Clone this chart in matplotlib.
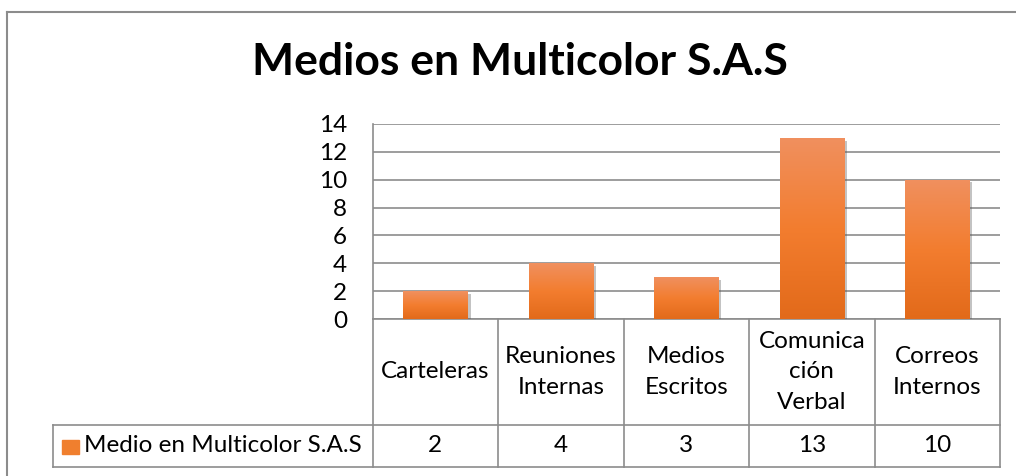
import matplotlib
matplotlib.use("Agg")
import matplotlib.pyplot as plt
import numpy as np
from matplotlib.colors import LinearSegmentedColormap
import matplotlib.patheffects as pe

plt.rcParams['font.family'] = ['Lato', 'DejaVu Sans']

title = "Medios en Multicolor S.A.S"
categories = ["Carteleras", "Reuniones\nInternas", "Medios\nEscritos", "Comunica\nción\nVerbal", "Correos\nInternos"]
values = [2, 4, 3, 13, 10]
series_name = "Medio en Multicolor S.A.S"
yticks = [0, 2, 4, 6, 8, 10, 12, 14]

W, H = 1016, 476
FS = 17.5
fig = plt.figure(figsize=(W / 100, H / 100), dpi=100)

# outer chart frame
frame_col = "#8c8c8c"
fig.add_artist(plt.Line2D([7 / W, 7 / W], [0, 1 - 12 / H], color=frame_col, lw=1.5))
fig.add_artist(plt.Line2D([7 / W, 1], [1 - 12 / H, 1 - 12 / H], color=frame_col, lw=1.5))

# plot area
left, right, top, bottom = 372.7, 1000, 124, 319
ax = fig.add_axes([left / W, 1 - bottom / H, (right - left) / W, (bottom - top) / H])
for s in ax.spines.values():
    s.set_visible(False)
ax.spines['left'].set_visible(True)
ax.spines['left'].set_color(frame_col)
ax.spines['left'].set_linewidth(1.2)
ax.set_yticks(yticks)
ax.set_yticklabels([str(t) for t in yticks], fontsize=FS)
ax.tick_params(axis='y', length=0, pad=18.5)
ax.tick_params(axis='x', length=0, labelbottom=False)
ax.yaxis.grid(True, color=frame_col, lw=1.2)
ax.set_axisbelow(True)

x = np.arange(len(values))
bw = 0.515
bars = ax.bar(x, values, width=bw, color="#F07F2E", zorder=2,
              path_effects=[pe.SimplePatchShadow(offset=(2, -2), alpha=0.35, shadow_rgbFace="#555555"), pe.Normal()])

cmap = LinearSegmentedColormap.from_list("og", ["#E26A1A", "#F37D2F", "#F0905F"])
grad = np.linspace(0, 1, 256).reshape(-1, 1)
for b in bars:
    x0, y0 = b.get_x(), b.get_y()
    im = ax.imshow(grad, cmap=cmap, origin="lower", aspect="auto",
                   extent=(x0, x0 + b.get_width(), y0, y0 + b.get_height()), zorder=3)
    im.set_clip_path(b)
ax.set_xlim(-0.5, len(values) - 0.5)
ax.set_ylim(0, 14)

# data table below
tr = ax.get_xaxis_transform()
ph = bottom - top
y_cat = -(425 - bottom) / ph
y_val = -(466.5 - bottom) / ph
x_leg = -0.5 - (left - 53) / ((right - left) / len(values))
lc = dict(color=frame_col, lw=1.2, transform=tr, clip_on=False, zorder=1)
ax.plot([-0.5, len(values) - 0.5], [0, 0], **lc)
ax.plot([x_leg, len(values) - 0.5], [y_cat, y_cat], **lc)
ax.plot([x_leg, len(values) - 0.5], [y_val, y_val], **lc)
ax.plot([x_leg, x_leg], [y_cat, y_val], **lc)
ax.plot([-0.5, -0.5], [0, y_val], **lc)
for i in range(len(values)):
    ax.plot([i + 0.5, i + 0.5], [0, y_val], **lc)
for i, (c, v) in enumerate(zip(categories, values)):
    ax.text(i, y_cat / 2, c, transform=tr, ha="center", va="center", fontsize=FS,
            linespacing=1.55, clip_on=False)
    ax.text(i, (y_cat + y_val) / 2, str(v), transform=tr, ha="center", va="center",
            fontsize=FS, clip_on=False)

# legend key in table
fig.add_artist(plt.Rectangle((62 / W, 1 - 454 / H), 17 / W, 14 / H, color="#F07F2E"))
fig.text(84 / W, 1 - 446 / H, series_name, ha="left", va="center", fontsize=FS)

fig.text(520 / W, 1 - 62 / H, title, ha="center", va="center", fontsize=32, fontweight="bold")

fig.savefig("out.png", dpi=100)
